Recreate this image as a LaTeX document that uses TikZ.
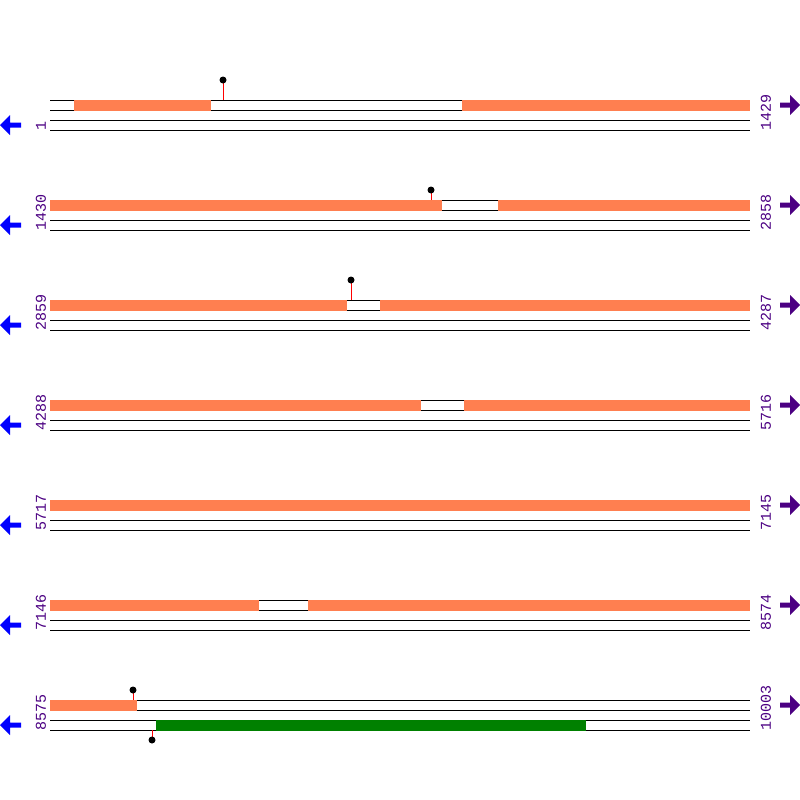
\documentclass[tikz,border=0pt]{standalone}
\usepackage{fontspec}
\newfontfamily\posfont{Liberation Mono}
\definecolor{featorange}{HTML}{FF7F50}
\definecolor{cdsgreen}{HTML}{008000}
\definecolor{fwdcol}{HTML}{4B0082}
\definecolor{revcol}{HTML}{0000FF}

\begin{document}
\begin{tikzpicture}[x=1pt,y=-1pt,line width=1pt]
\tikzstyle{every node}+=[inner sep=0pt]
\tikzstyle{poslabel}=[rotate=90,anchor=west,text=fwdcol,font=\posfont\fontsize{15}{15}\selectfont]
\tikzstyle{stem}=[red,line width=1pt]
\useasboundingbox (0,0) rectangle (800,800);
% rails, labels and strand arrows for each row
\foreach \r/\lo/\hi in {0/1/1429,1/1430/2858,2/2859/4287,3/4288/5716,4/5717/7145,5/7146/8574,6/8575/10003}{
\begin{scope}[shift={(0,100*\r)}]
\draw [black] (50,100) -- (750,100);
\draw [black] (50,110) -- (750,110);
\draw [black] (50,120) -- (750,120);
\draw [black] (50,130) -- (750,130);
\node [poslabel] (lo\r) at (41,131) {\lo};
\node [poslabel] (hi\r) at (766,131) {\hi};
\fill [fwdcol] (780,102.5) -- (790,102.5) -- (790,95) -- (800,105) -- (790,115) -- (790,107.5) -- (780,107.5) -- cycle;
\fill [revcol] (21,122.5) -- (10,122.5) -- (10,115) -- (0,125) -- (10,135) -- (10,127.5) -- (21,127.5) -- cycle;
\end{scope}
}
% row 1
\fill [featorange] (74,99.5) rectangle (211,110.5);
\fill [featorange] (462,99.5) rectangle (750,110.5);
\draw [stem] (223,100) -- (223,80);
\fill [black] (223,80) circle (3.5);
% row 2
\fill [featorange] (50,199.5) rectangle (442,210.5);
\fill [featorange] (498,199.5) rectangle (750,210.5);
\draw [stem] (431,200) -- (431,190);
\fill [black] (431,190) circle (3.5);
% row 3
\fill [featorange] (50,299.5) rectangle (347,310.5);
\fill [featorange] (380,299.5) rectangle (750,310.5);
\draw [stem] (351,300) -- (351,280);
\fill [black] (351,280) circle (3.5);
% row 4
\fill [featorange] (50,399.5) rectangle (421,410.5);
\fill [featorange] (464,399.5) rectangle (750,410.5);
% row 5
\fill [featorange] (50,499.5) rectangle (750,510.5);
% row 6
\fill [featorange] (50,599.5) rectangle (259,610.5);
\fill [featorange] (308,599.5) rectangle (750,610.5);
% row 7
\fill [featorange] (50,699.5) rectangle (137,710.5);
\draw [stem] (133,700) -- (133,690);
\fill [black] (133,690) circle (3.5);
\fill [cdsgreen] (156,719.5) rectangle (586,730.5);
\draw [stem] (152,730) -- (152,740);
\fill [black] (152,740) circle (3.5);
\end{tikzpicture}
\end{document}
